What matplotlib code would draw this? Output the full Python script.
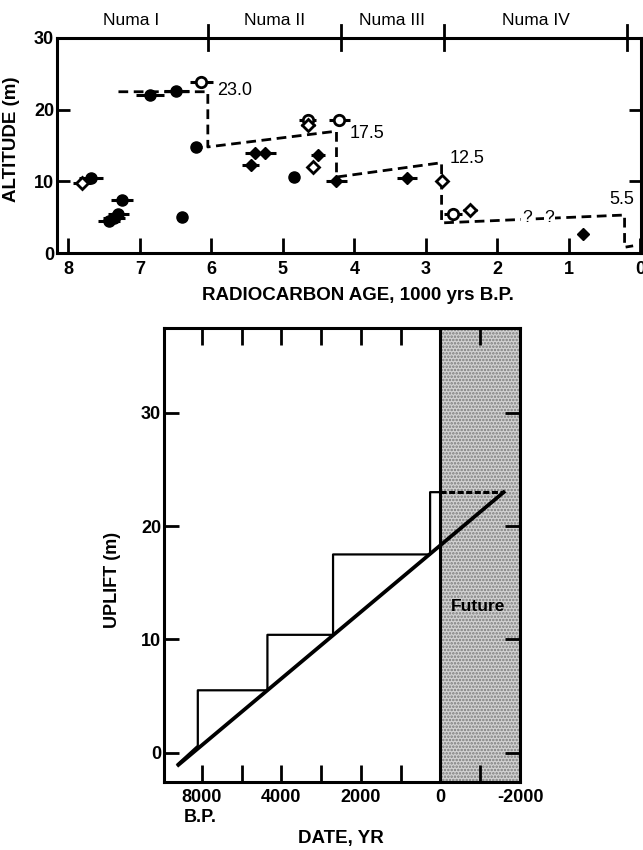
import matplotlib
matplotlib.use('Agg')
from matplotlib import pyplot as plt
import matplotlib.transforms as mtransforms

plt.rcParams['font.family'] = ['Liberation Sans', 'DejaVu Sans']
plt.rcParams['hatch.linewidth'] = 1.2

# ---------------------------------------------------------
# top panel: radiocarbon ages (1000 yrs B.P.) vs altitude (m)

filled_circle_age = [7.68, 7.25, 7.43, 7.36, 7.30, 6.41, 6.86, 6.49, 6.21, 4.85]
filled_circle_alt = [10.4, 7.4, 4.4, 4.9, 5.4, 5.0, 22.05, 22.65, 14.75, 10.65]
filled_circle_err = [0.17, 0.16, 0.15, 0.15, 0.15, 0.0, 0.19, 0.17, 0.08, 0.0]

filled_diamond_age = [5.45, 5.39, 5.25, 4.51, 4.25, 3.27, 0.80]
filled_diamond_alt = [12.3, 14.0, 14.0, 13.7, 10.1, 10.4, 2.6]
filled_diamond_err = [0.12, 0.14, 0.15, 0.10, 0.15, 0.14, 0.0]

open_circle_age = [6.14, 4.65, 4.21, 2.62]
open_circle_alt = [23.9, 18.6, 18.5, 5.5]
open_circle_err = [0.16, 0.12, 0.15, 0.13]

open_diamond_age = [7.81, 4.65, 4.58, 2.78, 2.38]
open_diamond_alt = [9.75, 17.9, 12.05, 10.0, 6.0]
open_diamond_err = [0.12, 0.10, 0.08, 0.06, 0.10]

# dashed reconstruction of terrace levels
terrace_age = [7.30, 6.05, 6.05, 4.25, 4.25, 2.78, 2.78, 0.22, 0.22, 0.10]
terrace_alt = [22.5, 22.5, 14.8, 17.0, 10.6, 12.6, 4.2, 5.3, 0.8, 1.0]
terrace_labels = ['23.0', '17.5', '12.5', '5.5']
terrace_label_age = [5.92, 4.06, 2.67, 0.43]
terrace_label_alt = [22.7, 16.7, 13.2, 7.4]

numa_names = ['Numa I', 'Numa II', 'Numa III', 'Numa IV']
numa_bounds = [8.2, 6.05, 4.19, 2.75, 0.18]

# bottom panel: uplift history
step_date = [6600, 6100, 6100, 4350, 4350, 2700, 2700, 260, 260, 0]
step_uplift = [-1.0, 0.6, 5.5, 5.5, 10.4, 10.4, 17.5, 17.5, 23.0, 23.0]
future_date = [0, -1600]
future_uplift = [23.0, 23.0]
trend_date = [6625, -1625]
trend_uplift = [-1.2, 23.1]

date_ticks = [6000, 4000, 2000, 0, -2000]
date_labels = ['8000', '4000', '2000', '0', '-2000']

# ---------------------------------------------------------

fig = plt.figure(figsize=(6.43, 8.5), dpi=100)

ax = fig.add_axes([57 / 643, 1 - 253 / 850, 584 / 643, 215 / 850])
ax.set_xlim(8.16, -0.01)
ax.set_ylim(0, 30)

ms = 8
ax.errorbar(filled_circle_age, filled_circle_alt, xerr=filled_circle_err, fmt='o',
            color='k', ms=ms, elinewidth=2.2, capsize=0, zorder=3)
ax.errorbar(filled_diamond_age, filled_diamond_alt, xerr=filled_diamond_err, fmt='D',
            color='k', ms=ms - 1.5, elinewidth=2.2, capsize=0, zorder=3)
ax.errorbar(open_circle_age, open_circle_alt, xerr=open_circle_err, fmt='o',
            color='k', mfc='white', mew=2, ms=ms - 0.5, elinewidth=2.2, capsize=0, zorder=4)
ax.errorbar(open_diamond_age, open_diamond_alt, xerr=open_diamond_err, fmt='D',
            color='k', mfc='white', mew=2, ms=ms - 2, elinewidth=2.2, capsize=0, zorder=4)

ax.plot(terrace_age, terrace_alt, color='k', lw=2, ls=(0, (3.5, 2)), zorder=2)
for lab, xa, ya in zip(terrace_labels, terrace_label_age, terrace_label_alt):
    ax.text(xa, ya, lab, fontsize=13, ha='left', va='center')
for xq in [1.59, 1.27]:
    ax.text(xq, 4.95, '?', fontsize=12.5, ha='center', va='center',
            bbox=dict(facecolor='white', edgecolor='none', pad=0.3), zorder=5)

# Numa periods along the top
for xb in numa_bounds[1:]:
    ax.plot([xb, xb], [28.3, 31.8], color='k', lw=2, clip_on=False)
for name, x0, x1 in zip(numa_names, numa_bounds[:-1], numa_bounds[1:]):
    ax.text((x0 + x1) / 2, 32.4, name, fontsize=12.5, ha='center', va='center')

ax.set_xticks(range(8, -1, -1))
ax.set_yticks([0, 10, 20, 30])
ax.tick_params(axis='x', direction='in', length=11, width=2, pad=6, labelsize=13)
ax.tick_params(axis='y', direction='in', length=9, width=2, pad=2, labelsize=13, right=True)
for lab in ax.get_xticklabels() + ax.get_yticklabels():
    lab.set_fontweight('bold')
for sp in ax.spines.values():
    sp.set_linewidth(2.2)
ax.set_xlabel('RADIOCARBON AGE, 1000 yrs B.P.', fontsize=13.5, fontweight='bold')
ax.xaxis.set_label_coords(0.515, -0.158)
ax.set_ylabel('ALTITUDE (m)', fontsize=13.5, fontweight='bold')
ax.yaxis.set_label_coords(-0.063, 0.53)

# ---------------------------------------------------------

bx = fig.add_axes([164 / 643, 1 - 782 / 850, 356 / 643, 454 / 850])
bx.set_xlim(6950, -2000)
bx.set_ylim(-2.6, 37.5)

bx.axvspan(0, -2000, facecolor='#d2d2d2', edgecolor='#7a7a7a', hatch='.....', lw=0, zorder=0)
bx.axvline(0, color='k', lw=2.2, zorder=2)

bx.plot(step_date, step_uplift, color='k', lw=1.6, zorder=3)
bx.plot(future_date, future_uplift, color='k', lw=2.2, ls=(0, (2, 0.8)), zorder=3)
bx.plot(trend_date, trend_uplift, color='k', lw=2.7, solid_capstyle='butt', zorder=4)
bx.text(-950, 12.9, 'Future', fontsize=12.5, fontweight='bold', ha='center', va='center')

bx.set_xticks(range(6000, -2000, -1000))
bx.set_xticklabels(['' for _ in range(6000, -2000, -1000)])
bx.set_yticks([0, 10, 20, 30])
bx.tick_params(axis='x', direction='in', length=12, width=2, top=True)
bx.tick_params(axis='y', direction='in', length=11, width=2, pad=2, labelsize=13, right=True)
for lab in bx.get_yticklabels():
    lab.set_fontweight('bold')
for sp in bx.spines.values():
    sp.set_linewidth(2.2)

trans = mtransforms.blended_transform_factory(bx.transData, bx.transAxes)
for xt, lab in zip(date_ticks, date_labels):
    bx.text(xt, -0.035, lab, transform=trans, fontsize=13, fontweight='bold',
            ha='center', va='center', clip_on=False)
bx.text(6050, -0.079, 'B.P.', transform=trans, fontsize=13, fontweight='bold',
        ha='center', va='center', clip_on=False)

bx.set_xlabel('DATE, YR', fontsize=13.5, fontweight='bold')
bx.xaxis.set_label_coords(0.498, -0.106)
bx.set_ylabel('UPLIFT (m)', fontsize=13, fontweight='bold')
bx.yaxis.set_label_coords(-0.121, 0.445)

fig.savefig('out.png', dpi=100)
